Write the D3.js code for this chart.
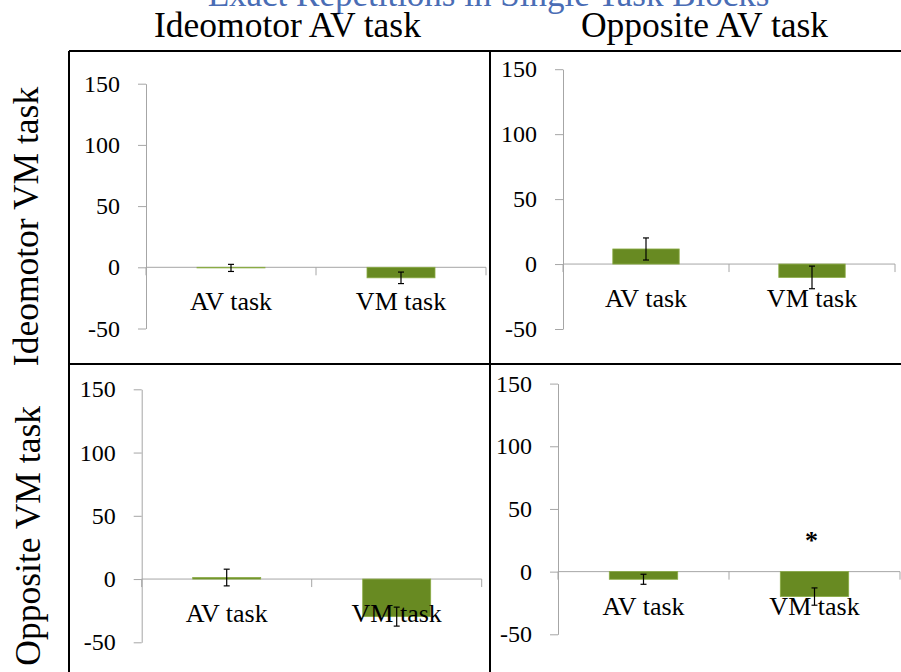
<!DOCTYPE html>
<html>
<head>
<meta charset="utf-8">
<script src="https://cdn.jsdelivr.net/npm/d3@7"></script>
<style>
  html, body { margin: 0; padding: 0; background: #fff; overflow: hidden; }
  svg { display: block; font-family: "Liberation Serif", "DejaVu Serif", serif; }
</style>
</head>
<body>
<svg id="chart" width="901" height="672"></svg>
<script>
// ---------- data ----------
const title = "Exact Repetitions in Single Task Blocks";
const columnHeaders = ["Ideomotor AV task", "Opposite AV task"];
const rowHeaders = ["Ideomotor VM task", "Opposite VM task"];
const categories = ["AV task", "VM task"];
const yTicks = [-50, 0, 50, 100, 150];

// panel order: [row0col0, row0col1, row1col0, row1col1]
const panelValues = [
  [-0.5, -8.6],
  [11.6, -10.3],
  [1.2, -29.7],
  [-6.1, -19.9]
];
const panelErrors = [
  [2.9, 4.7],
  [8.5, 8.7],
  [6.6, 7.5],
  [4.0, 6.9]
];
// significance marks: [panel index, category, value position, symbol]
const annotations = [[3, "VM task", 18, "*"]];

// ---------- layout ----------
const svg = d3.select("#chart");
const frame = { left: 69, top: 51, midX: 490, midY: 364, right: 901, bottom: 672 };

// per-panel plotting boxes (axis x, right end, y of 150, y of -50)
const panels = [
  { x0: 146, x1: 486, yTop: 83.7, yBot: 328.5 },
  { x0: 563, x1: 895, yTop: 69.2, yBot: 329.0 },
  { x0: 141.7, x1: 481.7, yTop: 389.3, yBot: 642.3 },
  { x0: 558, x1: 900, yTop: 383.6, yBot: 634.3 }
];

const barColor = "#688a22";
const axisColor = "#a6a6a6";

// title (clipped at top)
svg.append("text")
  .attr("x", 488.5).attr("y", 6)
  .attr("text-anchor", "middle")
  .attr("font-size", 35)
  .attr("fill", "#4a6db5")
  .text(title);

// column headers
const colCenters = [287.5, 704.5];
columnHeaders.forEach((h, i) => {
  svg.append("text")
    .attr("x", colCenters[i]).attr("y", 37)
    .attr("text-anchor", "middle")
    .attr("font-size", 35.5)
    .attr("fill", "#000")
    .text(h);
});

// row headers (rotated)
svg.append("text")
  .attr("transform", "translate(37.5,226.5) rotate(-90)")
  .attr("text-anchor", "middle")
  .attr("font-size", 35.5)
  .attr("fill", "#000")
  .text(rowHeaders[0]);
svg.append("text")
  .attr("transform", "translate(40,406) rotate(-90)")
  .attr("text-anchor", "end")
  .attr("font-size", 35.5)
  .attr("fill", "#000")
  .text(rowHeaders[1]);

// frame lines
const frameG = svg.append("g").attr("stroke", "#000").attr("stroke-width", 2);
frameG.append("line").attr("x1", frame.left).attr("x2", frame.right).attr("y1", frame.top).attr("y2", frame.top);
frameG.append("line").attr("x1", frame.left).attr("x2", frame.left).attr("y1", frame.top).attr("y2", frame.bottom);
frameG.append("line").attr("x1", frame.midX).attr("x2", frame.midX).attr("y1", frame.top).attr("y2", frame.bottom);
frameG.append("line").attr("x1", frame.left).attr("x2", frame.right).attr("y1", frame.midY).attr("y2", frame.midY);

// panels
panels.forEach((p, pi) => {
  const g = svg.append("g");
  const y = d3.scaleLinear().domain([-50, 150]).range([p.yBot, p.yTop]);
  const x = d3.scaleBand().domain(categories).range([p.x0, p.x1])
    .paddingInner(0.6).paddingOuter(0.3);
  const step = x.step();
  const start = x.range()[0];

  // y axis
  const ya = g.append("g")
    .attr("transform", `translate(${p.x0},0)`)
    .call(d3.axisLeft(y).tickValues(yTicks).tickFormat(d => String(d))
      .tickSize(8).tickPadding(18).tickSizeOuter(0));
  ya.select(".domain").attr("stroke", axisColor);
  ya.selectAll(".tick line").attr("stroke", axisColor);
  ya.selectAll(".tick text")
    .attr("font-size", 24)
    .attr("font-family", "Liberation Serif")
    .attr("fill", "#000");

  // x axis line at 0 with boundary ticks
  g.append("line")
    .attr("x1", p.x0).attr("x2", p.x1)
    .attr("y1", y(0)).attr("y2", y(0))
    .attr("stroke", axisColor);
  d3.range(categories.length + 1).forEach(i => {
    const bx = start + i * step;
    g.append("line")
      .attr("x1", bx).attr("x2", bx)
      .attr("y1", y(0)).attr("y2", y(0) + 8)
      .attr("stroke", axisColor);
  });

  const vals = panelValues[pi];
  const errs = panelErrors[pi];

  // bars
  g.selectAll("rect.bar").data(categories).enter().append("rect")
    .attr("class", "bar")
    .attr("x", c => x(c))
    .attr("width", x.bandwidth())
    .attr("y", (c, i) => y(Math.max(0, vals[i])))
    .attr("height", (c, i) => Math.abs(y(vals[i]) - y(0)))
    .attr("fill", barColor)
    .attr("stroke", "#8aab45")
    .attr("stroke-width", 0.8);

  // category labels
  g.selectAll("text.cat").data(categories).enter().append("text")
    .attr("class", "cat")
    .attr("x", c => x(c) + x.bandwidth() / 2)
    .attr("y", y(0) + 43)
    .attr("text-anchor", "middle")
    .attr("font-size", 26)
    .attr("fill", "#000")
    .text(c => c);

  // error bars
  categories.forEach((c, i) => {
    const cx = x(c) + x.bandwidth() / 2;
    const hi = y(vals[i] + errs[i]);
    const lo = y(vals[i] - errs[i]);
    const eg = g.append("g").attr("stroke", "#000").attr("stroke-width", 1.2);
    eg.append("line").attr("x1", cx).attr("x2", cx).attr("y1", hi).attr("y2", lo);
    eg.append("line").attr("x1", cx - 3).attr("x2", cx + 3).attr("y1", hi).attr("y2", hi);
    eg.append("line").attr("x1", cx - 3).attr("x2", cx + 3).attr("y1", lo).attr("y2", lo);
  });

  // annotations
  annotations.filter(a => a[0] === pi).forEach(a => {
    g.append("text")
      .attr("x", x(a[1]) + x.bandwidth() / 2 - 3)
      .attr("y", y(a[2]))
      .attr("text-anchor", "middle")
      .attr("font-size", 26)
      .attr("font-weight", "bold")
      .attr("fill", "#000")
      .text(a[3]);
  });
});
</script>
</body>
</html>
